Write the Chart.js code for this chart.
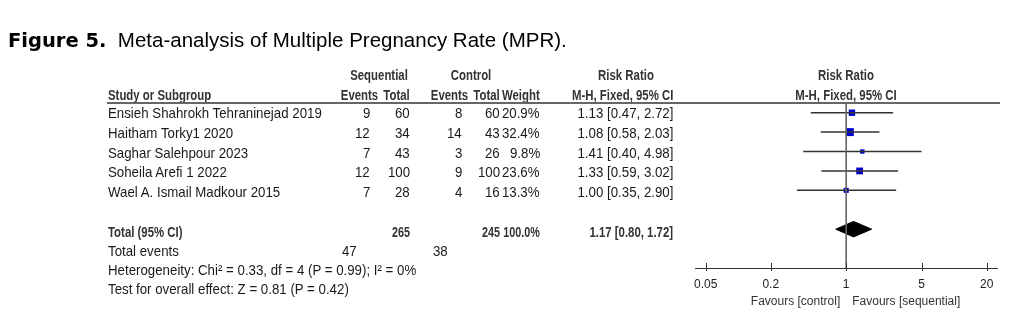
<!DOCTYPE html>
<html>
<head>
<meta charset="utf-8">
<script src="https://cdn.jsdelivr.net/npm/chart.js@4.4.0/dist/chart.umd.min.js"></script>
<style>
body { margin: 0; background: #fff; width: 1029px; height: 327px; position: relative; overflow: hidden;
       font-family: "Liberation Sans", Arial, sans-serif; }
#plot { position: absolute; left: 0; top: 0; }
.t { position: absolute; white-space: nowrap; font-size: 15px; line-height: 16px; color: #1a1a1a; }
.b, .bn { font-weight: bold; font-size: 15px; color: #333; }
.title { font-size: 20.5px; line-height: 22px; color: #000; }
.title b { font-family: "DejaVu Sans", sans-serif; font-size: 19.5px; }
.line { position: absolute; height: 2px; background: #666; }
</style>
</head>
<body>
<canvas id="plot" width="1029" height="327"></canvas>
<script>
// --- DADOS ---
const studies = ['Ensieh Shahrokh Tehraninejad 2019', 'Haitham Torky1 2020', 'Saghar Salehpour 2023', 'Soheila Arefi 1 2022', 'Wael A. Ismail Madkour 2015'];
const seqEvents = [9, 12, 7, 12, 7];
const seqTotal = [60, 34, 43, 100, 28];
const ctrlEvents = [8, 14, 3, 9, 4];
const ctrlTotal = [60, 43, 26, 100, 16];
const weights = [20.9, 32.4, 9.8, 23.6, 13.3];
const riskRatio = [1.13, 1.08, 1.41, 1.33, 1.00];
const ciLow = [0.47, 0.58, 0.40, 0.59, 0.35];
const ciHigh = [2.72, 2.03, 4.98, 3.02, 2.90];

const totalPatients = [265, 245];   // sequential, control
const totalEvents = [47, 38];
const totalWeight = 100.0;
const pooled = [1.17, 0.80, 1.72];  // RR, low, high
const heterogeneity = 'Heterogeneity: Chi² = 0.33, df = 4 (P = 0.99); I² = 0%';
const overallEffect = 'Test for overall effect: Z = 0.81 (P = 0.42)';

const tickValues = [0.05, 0.2, 1, 5, 20];
const tickLabels = ['0.05', '0.2', '1', '5', '20'];
const favourLabels = ['Favours [control]', 'Favours [sequential]'];

// --- LAYOUT (pixels) ---
const FONT = '"Liberation Sans", Arial, sans-serif';
const SCALE = { '': 0.885, b: 0.76, bn: 0.72 };   // imita Arial Narrow
const ROW0 = 113, ROW_H = 19.76;
const colStudy = 108;
const colSeqEv = 370, colSeqTot = 410, colCtrlEv = 462, colCtrlTot = 500, colWeight = 540, colRR = 673;
const TOTAL_ROW = 6, AXIS_ROW = 8, DIAMOND_HALF = 0.4;

function put(text, x, y, align, cls) {
    cls = cls || '';
    const el = document.createElement('div');
    el.className = 't ' + cls;
    el.textContent = text;
    el.style.top = (y - 8) + 'px';
    const k = SCALE[cls];
    if (align === 'right') {
        el.style.right = (1029 - x) + 'px';
        el.style.transformOrigin = 'right center';
        el.style.transform = `scaleX(${k})`;
    } else if (align === 'center') {
        el.style.left = x + 'px';
        el.style.transformOrigin = 'left center';
        el.style.transform = `scaleX(${k}) translateX(-50%)`;
    } else {
        el.style.left = x + 'px';
        el.style.transformOrigin = 'left center';
        el.style.transform = `scaleX(${k})`;
    }
    document.body.appendChild(el);
    return el;
}
const fmtCI = (r, l, h) => `${r.toFixed(2)} [${l.toFixed(2)}, ${h.toFixed(2)}]`;

// titulo
const title = document.createElement('div');
title.className = 't title';
title.style.left = '8px'; title.style.top = '29px';
title.innerHTML = '<b>Figure 5.</b>&nbsp; Meta-analysis of Multiple Pregnancy Rate (MPR).';
document.body.appendChild(title);

// cabecalhos
put('Sequential', 379, 75, 'center', 'b');
put('Control', 471, 75, 'center', 'b');
put('Risk Ratio', 626, 75, 'center', 'b');
put('Risk Ratio', 846, 75, 'center', 'b');
put('Study or Subgroup', colStudy, 95, 'left', 'b');
put('Events', colSeqEv + 8, 95, 'right', 'b');
put('Total', colSeqTot, 95, 'right', 'b');
put('Events', colCtrlEv + 6, 95, 'right', 'b');
put('Total', colCtrlTot, 95, 'right', 'b');
put('Weight', colWeight, 95, 'right', 'b');
put('M-H, Fixed, 95% CI', colRR, 95, 'right', 'b');
put('M-H, Fixed, 95% CI', 846, 95, 'center', 'b');
const hr = document.createElement('div');
hr.className = 'line';
hr.style.left = '107px'; hr.style.width = '893px'; hr.style.top = '102px';
document.body.appendChild(hr);

// linhas dos estudos
studies.forEach((s, i) => {
    const y = ROW0 + ROW_H * i;
    put(s, colStudy, y);
    put(String(seqEvents[i]), colSeqEv, y, 'right');
    put(String(seqTotal[i]), colSeqTot, y, 'right');
    put(String(ctrlEvents[i]), colCtrlEv, y, 'right');
    put(String(ctrlTotal[i]), colCtrlTot, y, 'right');
    put(weights[i].toFixed(1) + '%', colWeight, y, 'right');
    put(fmtCI(riskRatio[i], ciLow[i], ciHigh[i]), colRR, y, 'right');
});

// total
const yTot = ROW0 + ROW_H * TOTAL_ROW;
put('Total (95% CI)', colStudy, yTot, 'left', 'b');
put(String(totalPatients[0]), colSeqTot, yTot, 'right', 'bn');
put(String(totalPatients[1]), colCtrlTot, yTot, 'right', 'bn');
put(totalWeight.toFixed(1) + '%', colWeight, yTot, 'right', 'bn');
put(fmtCI(pooled[0], pooled[1], pooled[2]), colRR, yTot, 'right', 'b');
put('Total events', colStudy, 251);
put(String(totalEvents[0]), colSeqEv - 13, 251, 'right');
put(String(totalEvents[1]), colCtrlEv - 14, 251, 'right');
put(heterogeneity, colStudy, 270);
put(overallEffect, colStudy, 289);

// --- GRAFICO ---
const datasets = [];
datasets.push({ type: 'line', data: [{ x: 1, y: -0.5 }, { x: 1, y: AXIS_ROW }], borderColor: '#666', borderWidth: 1, pointRadius: 0 });
riskRatio.forEach((r, i) => {
    datasets.push({ type: 'line', data: [{ x: ciLow[i], y: i }, { x: ciHigh[i], y: i }], borderColor: '#333', borderWidth: 1.5, pointRadius: 0 });
});
datasets.push({
    type: 'scatter',
    data: riskRatio.map((r, i) => ({ x: r, y: i })),
    pointStyle: 'rect',
    pointRadius: weights.map(w => 1.4 * Math.sqrt(w) / Math.SQRT2),
    backgroundColor: '#0000cc', borderWidth: 0
});
datasets.push({
    type: 'line',
    data: [
        { x: pooled[1], y: TOTAL_ROW }, { x: pooled[0], y: TOTAL_ROW - DIAMOND_HALF },
        { x: pooled[2], y: TOTAL_ROW }, { x: pooled[0], y: TOTAL_ROW + DIAMOND_HALF },
        { x: pooled[1], y: TOTAL_ROW }
    ],
    borderColor: '#000', backgroundColor: '#000', borderWidth: 1, pointRadius: 0, fill: 'shape', tension: 0
});

const axisDecor = {
    id: 'axisDecor',
    afterDraw(chart) {
        const ctx = chart.ctx, xs = chart.scales.x, yb = chart.chartArea.bottom;
        ctx.save();
        ctx.strokeStyle = '#333'; ctx.lineWidth = 1;
        tickValues.forEach(v => {
            const px = Math.round(xs.getPixelForValue(v)) + 0.5;
            ctx.beginPath(); ctx.moveTo(px, yb - 5); ctx.lineTo(px, yb + 3); ctx.stroke();
        });
        const mid = xs.getPixelForValue(1);
        ctx.fillStyle = '#333'; ctx.font = '12px ' + FONT; ctx.textBaseline = 'middle';
        ctx.textAlign = 'right'; ctx.fillText(favourLabels[0], mid - 6, 302);
        ctx.textAlign = 'left'; ctx.fillText(favourLabels[1], mid + 6, 302);
        ctx.restore();
    }
};

new Chart(document.getElementById('plot'), {
    type: 'scatter',
    data: { datasets },
    options: {
        responsive: false, animation: false, devicePixelRatio: 1,
        layout: { padding: { left: 695, right: 32, top: 103, bottom: 26.6 }, autoPadding: false },
        plugins: { legend: { display: false }, tooltip: { enabled: false } },
        scales: {
            x: {
                type: 'logarithmic', min: 0.0398, max: 24.9,
                afterBuildTicks: s => { s.ticks = tickValues.map(v => ({ value: v })); },
                ticks: { callback: v => tickLabels[tickValues.indexOf(v)], padding: 9, color: '#222', font: { family: FONT, size: 12 }, autoSkip: false, maxRotation: 0 },
                grid: { display: false, drawTicks: false },
                border: { display: true, color: '#333', width: 1 }
            },
            y: { type: 'linear', display: false, min: -0.5, max: AXIS_ROW, reverse: true }
        }
    },
    plugins: [axisDecor]
});
</script>
</body>
</html>
